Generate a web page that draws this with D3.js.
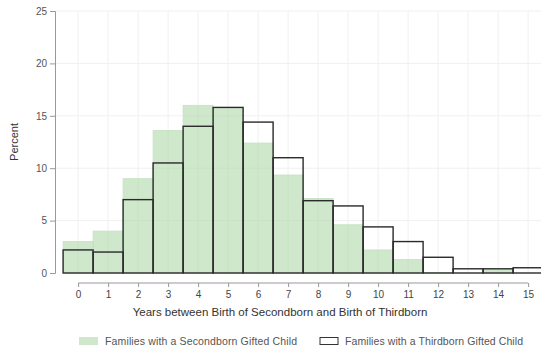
<!DOCTYPE html>
<html>
<head>
<meta charset="utf-8">
<script src="https://cdn.jsdelivr.net/npm/d3@7"></script>
<style>
  body { margin: 0; background: #fff; }
  svg { font-family: "Liberation Sans", Arial, sans-serif; }
</style>
</head>
<body>
<svg id="chart"></svg>
<script>
// gap in years between secondborn and thirdborn
const years = d3.range(0, 16);
const secondbornGifted = [3.0, 4.0, 9.0, 13.6, 16.0, 15.8, 12.4, 9.35, 7.1, 4.6, 2.2, 1.3, 0.05, 0.0, 0.3, 0.0];
const thirdbornGifted = [2.2, 2.0, 7.0, 10.5, 14.0, 15.8, 14.4, 11.0, 6.9, 6.4, 4.4, 3.0, 1.5, 0.4, 0.4, 0.5];
const yTicks = [0, 5, 10, 15, 20, 25];
const legendLabels = ['Families with a Secondborn Gifted Child', 'Families with a Thirdborn Gifted Child'];

const width = 541, height = 354;
const svg = d3.select('#chart').attr('width', width).attr('height', height);

const x = d3.scaleLinear().domain([-0.77, 15.43]).range([55, 541]);
const y = d3.scaleLinear().domain([0, 25]).range([273, 11]);
const bw = x(1) - x(0);

// grid
svg.append('g')
    .selectAll('line')
    .data(years)
    .enter()
    .append('line')
    .attr('x1', d => x(d)).attr('x2', d => x(d))
    .attr('y1', y(25)).attr('y2', y(0))
    .attr('stroke', '#f0f0f0');

svg.append('g')
    .selectAll('line')
    .data(yTicks.slice(1))
    .enter()
    .append('line')
    .attr('x1', 55).attr('x2', width)
    .attr('y1', d => y(d)).attr('y2', d => y(d))
    .attr('stroke', '#f0f0f0');

// secondborn filled bars
svg.append('g')
    .selectAll('rect')
    .data(secondbornGifted)
    .enter()
    .append('rect')
    .attr('x', (d, i) => x(years[i]) - bw / 2)
    .attr('y', d => y(d))
    .attr('width', bw)
    .attr('height', d => y(0) - y(d))
    .attr('fill', '#a8d5a2')
    .attr('fill-opacity', 0.55)
    .attr('stroke', '#c4e2c0')
    .attr('stroke-width', 0.8);

// thirdborn outline bars on top
svg.append('g')
    .selectAll('rect')
    .data(thirdbornGifted)
    .enter()
    .append('rect')
    .attr('x', (d, i) => x(years[i]) - bw / 2)
    .attr('y', d => y(d))
    .attr('width', bw)
    .attr('height', d => y(0) - y(d))
    .attr('fill', 'none')
    .attr('stroke', '#2a2a2a')
    .attr('stroke-width', 1.4);

// y axis
const yAxis = svg.append('g')
    .attr('transform', 'translate(55,0)')
    .call(d3.axisLeft(y).tickValues(yTicks).tickSize(5).tickPadding(3));
yAxis.select('.domain').attr('stroke', '#999');
yAxis.selectAll('.tick line').attr('stroke', '#999');
yAxis.selectAll('text').attr('fill', '#555').style('font-size', '10px');

// x axis
const xAxis = svg.append('g')
    .attr('transform', 'translate(0,283)')
    .call(d3.axisBottom(x).tickValues(years).tickFormat(d3.format('d')).tickSize(4).tickSizeOuter(0).tickPadding(4));
xAxis.select('.domain').attr('stroke', '#999').attr('d', `M${x(0)},0H${x(15)}`);
xAxis.selectAll('.tick line').attr('stroke', '#999');
xAxis.selectAll('text').attr('fill', '#444').style('font-size', '10px');

// axis titles
svg.append('text')
    .attr('x', 280).attr('y', 316)
    .attr('text-anchor', 'middle')
    .attr('fill', '#333')
    .style('font-size', '11.5px')
    .text('Years between Birth of Secondborn and Birth of Thirdborn');

svg.append('text')
    .attr('transform', `translate(18,${(y(0) + y(25)) / 2}) rotate(-90)`)
    .attr('text-anchor', 'middle')
    .attr('fill', '#333')
    .style('font-size', '11px')
    .text('Percent');

// legend
const legend = svg.append('g');
legend.append('rect')
    .attr('x', 79).attr('y', 337).attr('width', 19).attr('height', 8)
    .attr('fill', '#a8d5a2').attr('fill-opacity', 0.55);
legend.append('text')
    .attr('x', 105).attr('y', 345)
    .attr('fill', '#555').style('font-size', '10.5px')
    .attr('textLength', 192)
    .text(legendLabels[0]);
legend.append('rect')
    .attr('x', 320).attr('y', 337.5).attr('width', 18).attr('height', 7)
    .attr('fill', 'none').attr('stroke', '#333').attr('stroke-width', 1);
legend.append('text')
    .attr('x', 345).attr('y', 345)
    .attr('fill', '#555').style('font-size', '10.5px')
    .attr('textLength', 178)
    .text(legendLabels[1]);
</script>
</body>
</html>
